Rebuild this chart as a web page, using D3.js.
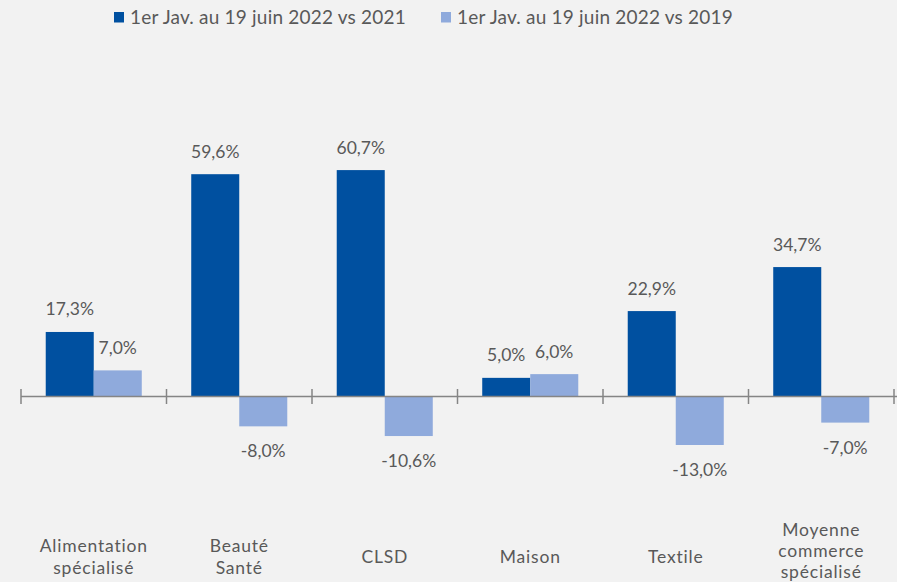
<!DOCTYPE html>
<html><head><meta charset="utf-8">
<script src="https://cdn.jsdelivr.net/npm/d3@7"></script>
<style>body{margin:0;background:#f2f2f2;}svg{display:block;font-family:"Century Gothic","Lato","Noto Sans",sans-serif;}</style>
</head><body>
<svg id="c" width="897" height="582"></svg>
<script>
const categories = [["Alimentation","spécialisé"],["Beauté","Santé"],["CLSD"],["Maison"],["Textile"],["Moyenne","commerce","spécialisé"]];
const series2021 = [17.3, 59.6, 60.7, 5.0, 22.9, 34.7];
const series2019 = [7.0, -8.0, -10.6, 6.0, -13.0, -7.0];
const seriesNames = ["1er Jav. au 19 juin 2022 vs 2021", "1er Jav. au 19 juin 2022 vs 2019"];
const colors = ["#0050a0", "#8faadc"];

const svg = d3.select("#c");
const W = 897, H = 582;
svg.append("rect").attr("width", W).attr("height", H).attr("fill", "#f2f2f2");

const idx = d3.range(categories.length);
const x = d3.scaleBand().domain(idx).range([21, 894]).paddingInner(0).paddingOuter(0);
const inner = 0.17;
const y = d3.scaleLinear().domain([-40, 70]).range([545.7, 135.4]);
const bw = x.bandwidth() * (1 - 2 * inner) / 2;
const fmt = v => d3.format(".1f")(Math.abs(v)).replace(".", ",") + "%";
const fmtS = v => (v < 0 ? "-" : "") + fmt(v);

const data = [series2021, series2019];
data.forEach((s, si) => {
  const g = svg.append("g");
  g.selectAll("rect").data(s).enter().append("rect")
    .attr("x", (d, i) => x(i) + x.bandwidth() * inner + si * bw)
    .attr("width", bw)
    .attr("y", d => y(Math.max(0, d)))
    .attr("height", d => Math.abs(y(d) - y(0)))
    .attr("fill", colors[si]);
  g.selectAll("text").data(s).enter().append("text")
    .attr("x", (d, i) => x(i) + x.bandwidth() * inner + si * bw + bw / 2)
    .attr("y", d => d >= 0 ? y(d) - 16.5 : y(d) + 31)
    .attr("text-anchor", "middle")
    .attr("font-size", 17.5)
    .attr("fill", "#595959")
    .text(d => fmtS(d));
});

// axis line and ticks
const axisG = svg.append("g").attr("stroke", "#858585").attr("stroke-width", 1.5);
axisG.append("line").attr("x1", 21).attr("x2", 897).attr("y1", y(0)).attr("y2", y(0));
const bounds = idx.map(i => x(i)).concat([x(idx.length - 1) + x.bandwidth()]);
axisG.selectAll(".t").data(bounds).enter().append("line")
  .attr("x1", d => d).attr("x2", d => d)
  .attr("y1", y(0) - 7.5).attr("y2", y(0) + 7.5);

// category labels
categories.forEach((lines, i) => {
  const cx = x(i) + x.bandwidth() / 2;
  const lh = lines.length > 2 ? 21 : 22;
  const first = lines.length > 2 ? 536 : 563 - (lines.length - 1) * 11.5;
  const t = svg.append("text").attr("text-anchor", "middle").attr("font-size", 17.5)
    .attr("letter-spacing", 0.8).attr("fill", "#595959");
  lines.forEach((l, k) => {
    t.append("tspan").attr("x", cx).attr("y", first + k * lh).text(l);
  });
});

// legend
const legX = [114, 441];
seriesNames.forEach((n, i) => {
  svg.append("rect").attr("x", legX[i]).attr("y", 12).attr("width", 10).attr("height", 10.5).attr("fill", colors[i]);
  svg.append("text").attr("x", legX[i] + 16).attr("y", 23.5).attr("font-size", 19)
    .attr("letter-spacing", 0.2).attr("fill", "#595959").text(n);
});
</script>
</body></html>
